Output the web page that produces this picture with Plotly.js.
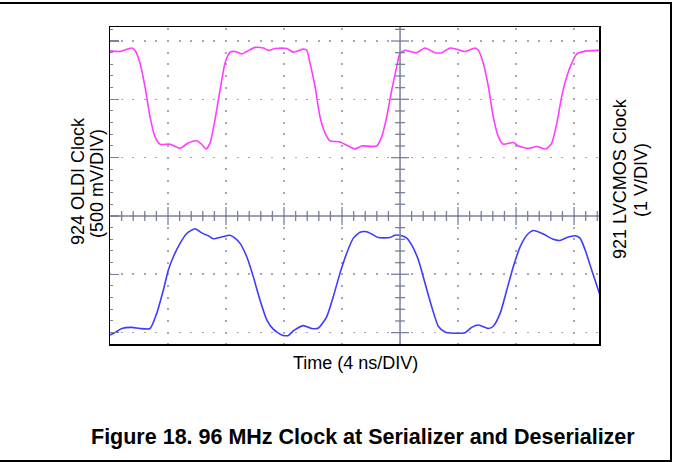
<!DOCTYPE html>
<html><head><meta charset="utf-8">
<script src="https://cdn.plot.ly/plotly-3.0.1.min.js"></script>
<style>html,body{margin:0;padding:0;background:#fff}#chart{width:673px;height:462px}</style>
</head><body><div id="chart"></div>
<script>
// Time in ns (4 ns per division), levels in screen divisions
const magentaTime = [-20.0,-19.31,-18.50,-18.28,-17.93,-17.59,-17.24,-16.90,-16.55,-15.86,-15.17,-14.62,-14.02,-13.68,-13.38,-13.10,-12.76,-12.41,-12.07,-11.72,-11.38,-10.92,-10.57,-10.00,-9.43,-9.08,-8.62,-7.81,-7.36,-6.67,-6.43,-6.21,-5.86,-5.52,-5.17,-4.83,-4.14,-3.57,-3.10,-2.64,-1.61,-1.26,-0.92,-0.57,-0.23,0.00,0.34,0.69,1.15,1.72,2.41,2.88,3.45,3.91,4.48,5.17,5.40,5.74,6.09,6.43,6.78,7.12,7.81,8.16,8.86,9.43,10.07,10.46,10.81,11.15,11.50,11.84,12.19,12.88,13.75];
const magentaLevel = [2.83,2.82,2.88,2.84,2.62,2.22,1.70,1.36,1.23,1.23,1.16,1.25,1.29,1.23,1.15,1.25,1.65,2.16,2.62,2.81,2.82,2.78,2.82,2.89,2.88,2.84,2.87,2.87,2.81,2.86,2.84,2.62,2.22,1.70,1.42,1.29,1.27,1.20,1.15,1.20,1.20,1.36,1.70,2.16,2.56,2.79,2.84,2.82,2.80,2.88,2.80,2.80,2.88,2.86,2.82,2.88,2.84,2.62,2.22,1.70,1.36,1.23,1.26,1.20,1.16,1.19,1.15,1.25,1.59,2.05,2.39,2.62,2.78,2.83,2.84];
const blueTime = [-20.0,-19.66,-19.19,-18.50,-17.93,-17.24,-16.78,-16.32,-15.98,-15.63,-15.17,-14.71,-14.14,-13.68,-13.22,-12.88,-12.30,-11.72,-11.38,-11.03,-10.57,-10.12,-9.66,-9.19,-8.74,-8.16,-7.70,-7.36,-6.67,-6.09,-5.63,-5.06,-4.60,-4.14,-3.68,-3.22,-2.76,-2.30,-1.95,-1.50,-0.69,-0.34,0.12,0.46,0.81,1.26,1.72,2.19,2.64,3.10,3.68,4.48,4.94,5.40,6.09,6.43,6.90,7.36,7.81,8.28,8.74,9.19,9.88,10.57,11.03,11.50,12.07,12.41,12.76,13.22,13.75];
const blueLevel = [-2.04,-2.00,-1.93,-1.91,-1.93,-1.93,-1.67,-1.27,-0.93,-0.70,-0.47,-0.30,-0.22,-0.29,-0.34,-0.39,-0.36,-0.33,-0.38,-0.47,-0.70,-1.04,-1.44,-1.78,-1.94,-2.04,-2.05,-1.97,-1.88,-1.93,-1.92,-1.73,-1.38,-0.98,-0.64,-0.38,-0.28,-0.27,-0.31,-0.37,-0.37,-0.33,-0.34,-0.38,-0.50,-0.75,-1.15,-1.56,-1.89,-1.99,-2.01,-2.00,-1.91,-1.87,-1.93,-1.89,-1.67,-1.27,-0.87,-0.53,-0.33,-0.25,-0.31,-0.40,-0.42,-0.37,-0.34,-0.38,-0.58,-0.93,-1.33];
const xLabel = 'Time (4 ns/DIV)';
const leftLabels = ['924 OLDI Clock', '(500 mV/DIV)'];
const rightLabels = ['921 LVCMOS Clock', '(1 V/DIV)'];
const figureTitle = 'Figure 18. 96 MHz Clock at Serializer and Deserializer';

const W = 673, H = 462, L = 110, R = 74, T = 27, B = 118;
const X0 = -20, X1 = 13.72, Y0 = -2.195, Y1 = 3.24;
const pw = W - L - R, ph = H - T - B;
const nsPerPx = (X1 - X0) / pw, divPerPx = (Y1 - Y0) / ph;
const axisCol = '#7c809c', gridCol = '#a3a7bd';
const px = v => (v - L) / pw;           // page px -> paper x
const py = v => (H - B - v) / ph;       // page px -> paper y

const shapes = [];
const ln = (o, w) => Object.assign({type: 'line', xref: 'x', yref: 'y', layer: 'above', line: {color: axisCol, width: w || 1.5}}, o);
shapes.push(ln({x0: 0, x1: 0, y0: Y0, y1: Y1}));
shapes.push(ln({x0: X0, x1: X1, y0: 0, y1: 0}));
for (let k = Math.ceil(X0 / 0.8 - 1e-6); k <= Math.floor(X1 / 0.8 + 1e-6); k++) {
  if (k === 0 || Math.abs(k * 0.8 - X0) < 1e-6) continue;
  const x = k * 0.8, len = (k % 5 === 0 ? 9 : 5) * divPerPx;
  shapes.push(ln({x0: x, x1: x, y0: -len, y1: len}, 1.3));
}
for (let k = Math.ceil(Y0 / 0.2 - 1e-6); k <= Math.floor(Y1 / 0.2 + 1e-6); k++) {
  if (k === 0) continue;
  const y = k * 0.2, len = (k % 5 === 0 ? 9 : 5) * nsPerPx;
  shapes.push(ln({x0: -len, x1: len, y0: y, y1: y}, 1.3));
}
// page frame
const fr = (o) => Object.assign({type: 'line', xref: 'paper', yref: 'paper', line: {color: '#000', width: 2}}, o);
shapes.push(fr({x0: px(0), x1: px(672), y0: py(3), y1: py(3)}));
shapes.push(fr({x0: px(671), x1: px(671), y0: py(3), y1: py(461)}));
shapes.push(fr({x0: px(0), x1: px(672), y0: py(461), y1: py(461)}));

const fontFam = '"Liberation Sans", Arial, Helvetica, sans-serif';
const ann = (text, x, y, size, angle, bold) => ({
  text: bold ? '<b>' + text + '</b>' : text, xref: 'paper', yref: 'paper',
  x: px(x), y: py(y), xanchor: 'center', yanchor: 'middle', showarrow: false,
  textangle: angle, font: {family: fontFam, size: size, color: '#000'}
});
const annotations = [
  ann(xLabel, 355, 363, 18, 0),
  ann(leftLabels[0], 78, 181, 18, -90),
  ann(leftLabels[1], 97, 184, 18, -90),
  ann(rightLabels[0], 620, 179, 18, -90),
  ann(rightLabels[1], 641, 180, 18, -90),
  ann(figureTitle, 363, 437, 21.5, 0, true)
];

const traces = [
  {x: magentaTime, y: magentaLevel, type: 'scatter', mode: 'lines',
   line: {color: '#ff3cff', width: 1.6, shape: 'spline', smoothing: 0.6}, hoverinfo: 'skip'},
  {x: blueTime, y: blueLevel, type: 'scatter', mode: 'lines',
   line: {color: '#3c3cff', width: 1.6, shape: 'spline', smoothing: 0.6}, hoverinfo: 'skip'}
];

const layout = {
  width: W, height: H, margin: {l: L, r: R, t: T, b: B, pad: 0},
  paper_bgcolor: '#fff', plot_bgcolor: '#fff', showlegend: false,
  font: {family: fontFam},
  xaxis: {range: [X0, X1], tick0: 0, dtick: 4, showgrid: true, gridcolor: gridCol, gridwidth: 1.6,
          griddash: '0px,1.33px,2px,8.34px', zeroline: false, showline: true, mirror: true,
          linecolor: '#000', linewidth: 1.5, ticks: '', showticklabels: false, fixedrange: true},
  yaxis: {range: [Y0, Y1], tick0: 0, dtick: 1, showgrid: true, gridcolor: gridCol, gridwidth: 1.6,
          griddash: '1px,9.6px,1px,0px', zeroline: false, showline: true, mirror: true,
          linecolor: '#000', linewidth: 1.5, ticks: 'inside', ticklen: 9, tickwidth: 1.3, tickcolor: axisCol,
          minor: {ticks: 'inside', ticklen: 3, tick0: 0, dtick: 0.2, tickwidth: 1, tickcolor: axisCol, showgrid: false},
          showticklabels: false, fixedrange: true},
  shapes: shapes, annotations: annotations
};
Plotly.newPlot('chart', traces, layout, {staticPlot: true, displayModeBar: false});
</script></body></html>
